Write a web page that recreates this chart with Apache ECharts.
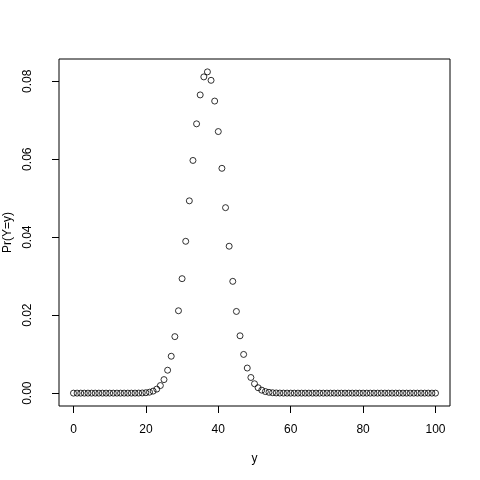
<!DOCTYPE html>
<html>
<head>
<meta charset="utf-8">
<script src="https://cdn.jsdelivr.net/npm/echarts@6/dist/echarts.min.js"></script>
<style>
  html, body { margin: 0; padding: 0; background: #fff; }
  #main { width: 480px; height: 480px; }
</style>
</head>
<body>
<div id="main"></div>
<script>
// values: y = 0..100, Pr(Y=y)
var yValues = [];
for (var i = 0; i <= 100; i++) yValues.push(i);
var probs = [
  0, 0, 0, 0, 0, 0, 0, 0, 0, 0,
  0, 0, 0, 0, 0, 0.0000007, 0.0000023, 0.0000067, 0.0000182, 0.0000462,
  0.000110, 0.000246, 0.000518, 0.001032, 0.001944, 0.003470, 0.005879, 0.009463, 0.01449, 0.02113,
  0.02936, 0.03894, 0.04932, 0.05968, 0.06907, 0.07649, 0.08111, 0.0824, 0.08023, 0.07491,
  0.06709, 0.05766, 0.04757, 0.03768, 0.02867, 0.02095, 0.01471, 0.009928, 0.006438, 0.004013,
  0.002404, 0.001384, 0.000766, 0.000407, 0.000208, 0.000102, 0.0000483, 0.0000219, 0.0000095, 0.0000040,
  0.0000016, 0.0000006, 0.0000002, 0, 0, 0, 0, 0, 0, 0,
  0, 0, 0, 0, 0, 0, 0, 0, 0, 0,
  0, 0, 0, 0, 0, 0, 0, 0, 0, 0,
  0, 0, 0, 0, 0, 0, 0, 0, 0, 0,
  0
];
var xTicks = [0, 20, 40, 60, 80, 100];
var yTicks = [0, 0.02, 0.04, 0.06, 0.08];

var points = yValues.map(function (v, i) { return [v, probs[i]]; });

var myChart = echarts.init(document.getElementById('main'));
var font = 'Liberation Sans, Arial, sans-serif';

var option = {
    animation: false,
    backgroundColor: '#fff',
    grid: {
        left: 59, right: 30, top: 59, bottom: 74,
        containLabel: false,
        outerBoundsMode: 'none',
        show: true, borderColor: '#000', borderWidth: 1
    },
    xAxis: {
        type: 'value',
        min: -4, max: 104,
        name: 'y',
        nameLocation: 'middle',
        nameGap: 47,
        nameTextStyle: { color: '#000', fontSize: 12, fontFamily: font },
        axisLine: { show: false, onZero: false },
        splitLine: { show: false },
        axisTick: { show: true, inside: false, length: 7, customValues: xTicks,
                    lineStyle: { color: '#000' } },
        axisLabel: { customValues: xTicks, margin: 18, color: '#000',
                     fontSize: 12, fontFamily: font }
    },
    yAxis: {
        type: 'value',
        min: -0.0033, max: 0.0857,
        name: 'Pr(Y=y)',
        nameLocation: 'middle',
        nameGap: 44,
        nameRotate: 90,
        nameTextStyle: { color: '#000', fontSize: 12, fontFamily: font },
        axisLine: { show: false, onZero: false },
        splitLine: { show: false },
        axisTick: { show: true, inside: false, length: 7, customValues: yTicks,
                    lineStyle: { color: '#000' } },
        axisLabel: { customValues: yTicks, rotate: 90, margin: 25, color: '#000',
                     fontSize: 12, fontFamily: font,
                     formatter: function (v) { return v.toFixed(2); } }
    },
    series: [{
        type: 'scatter',
        data: points,
        symbol: 'circle',
        symbolSize: 6,
        itemStyle: { color: 'rgba(0,0,0,0)', borderColor: '#000', borderWidth: 1 }
    }]
};
myChart.setOption(option);
</script>
</body>
</html>
